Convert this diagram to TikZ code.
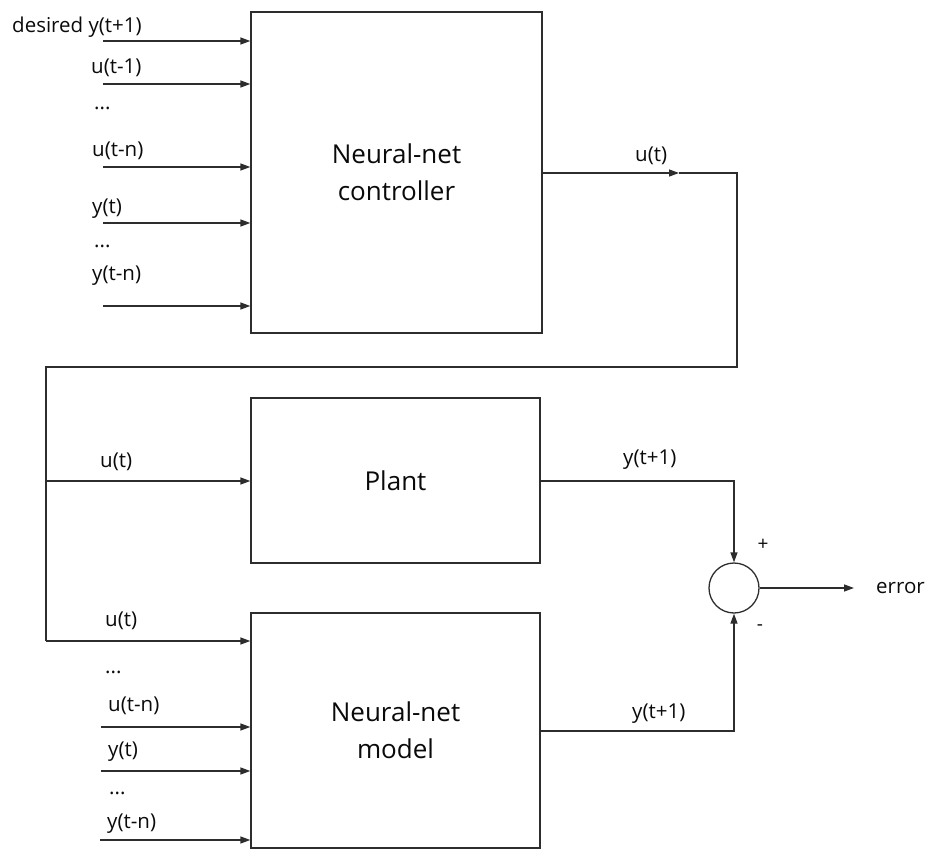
\documentclass[tikz,border=0pt]{standalone}
\usepackage{fontspec}
\setmainfont{Open Sans}
\usetikzlibrary{arrows.meta}
\definecolor{linec}{RGB}{45,45,45}
\definecolor{textc}{RGB}{10,10,10}
\begin{document}
\begin{tikzpicture}[x=1pt,y=-1pt,
  line/.style={draw=linec, line width=1.3pt},
  arr/.style={line, -{Triangle[length=10pt,width=7pt]}},
  block/.style={draw=linec, line width=1.3pt, inner sep=0pt, align=center,
    text=textc, font=\fontsize{26}{37}\selectfont},
  lbl/.style={inner sep=0pt, anchor=base west, text=textc,
    font=\fontsize{20.5}{24}\selectfont},
  sign/.style={inner sep=0pt, text=textc, font=\fontsize{19}{20}\selectfont},
]
\useasboundingbox (0,0) rectangle (930,851);

% blocks
\node[block, minimum width=291pt, minimum height=321pt] (ctrl) at (396.5,172.5) {Neural-net\\controller};
\node[block, minimum width=289pt, minimum height=165pt] (plant) at (395.5,480.5) {Plant};
\node[block, minimum width=289pt, minimum height=235pt] (model) at (395.5,730.5) {Neural-net\\model};
\node[circle, draw=linec, line width=1.3pt, minimum size=50pt, inner sep=0pt] (sum) at (734,588) {};

% controller inputs
\coordinate (ci1) at (103,41);
\coordinate (ci2) at (103,84);
\coordinate (ci3) at (103,167);
\coordinate (ci4) at (103,223);
\coordinate (ci5) at (103,306);
\foreach \c in {ci1,ci2,ci3,ci4,ci5}
  \draw[arr] (\c) -- (ctrl.west |- \c);
\node[lbl] (l1) at (12,33) {desired y(t+1)};
\node[lbl] (l2) at (91,74) {u(t-1)};
\node[lbl] (l3) at (94,110) {...};
\node[lbl] (l4) at (92,157) {u(t-n)};
\node[lbl] (l5) at (92,213) {y(t)};
\node[lbl] (l6) at (94,247) {...};
\node[lbl] (l7) at (92,280) {y(t-n)};

% controller output fed back to plant and model
\coordinate (umid) at (679,173);
\coordinate (loopR) at (737,173);
\coordinate (loopRB) at (737,367);
\coordinate (loopL) at (46,367);
\coordinate (tapP) at (46,481);
\coordinate (tapM) at (46,641);
\draw[arr] (ctrl.east |- umid) -- (umid);
\draw[line] (umid) -- (loopR) -- (loopRB) -- (loopL) -- (tapM);
\draw[arr] (tapP) -- (plant.west |- tapP);
\draw[arr] (tapM) -- (model.west |- tapM);
\node[lbl] (lu) at (635,161) {u(t)};
\node[lbl] (lup) at (100,467) {u(t)};
\node[lbl] (lum) at (105,626) {u(t)};

% model inputs
\coordinate (mi1) at (101,727);
\coordinate (mi2) at (101,771);
\coordinate (mi3) at (100,840);
\foreach \c in {mi1,mi2,mi3}
  \draw[arr] (\c) -- (model.west |- \c);
\node[lbl] (m1) at (105,673) {...};
\node[lbl] (m2) at (108,711) {u(t-n)};
\node[lbl] (m3) at (108,756) {y(t)};
\node[lbl] (m4) at (109,794) {...};
\node[lbl] (m5) at (107,828) {y(t-n)};

% outputs and error
\coordinate (pout) at (540,481);
\coordinate (mout) at (540,731);
\draw[arr] (plant.east |- pout) -| (sum.north);
\draw[arr] (model.east |- mout) -| (sum.south);
\node[lbl] (yp) at (623,464) {y(t+1)};
\node[lbl] (ym) at (632,718) {y(t+1)};
\node[sign] (plus) at (763,545) {+};
\node[sign] (minus) at (760,628) {-};
\coordinate (errEnd) at (854,588);
\draw[arr] (sum.east) -- (errEnd);
\node[lbl] (err) at (876,593) {error};
\end{tikzpicture}
\end{document}
